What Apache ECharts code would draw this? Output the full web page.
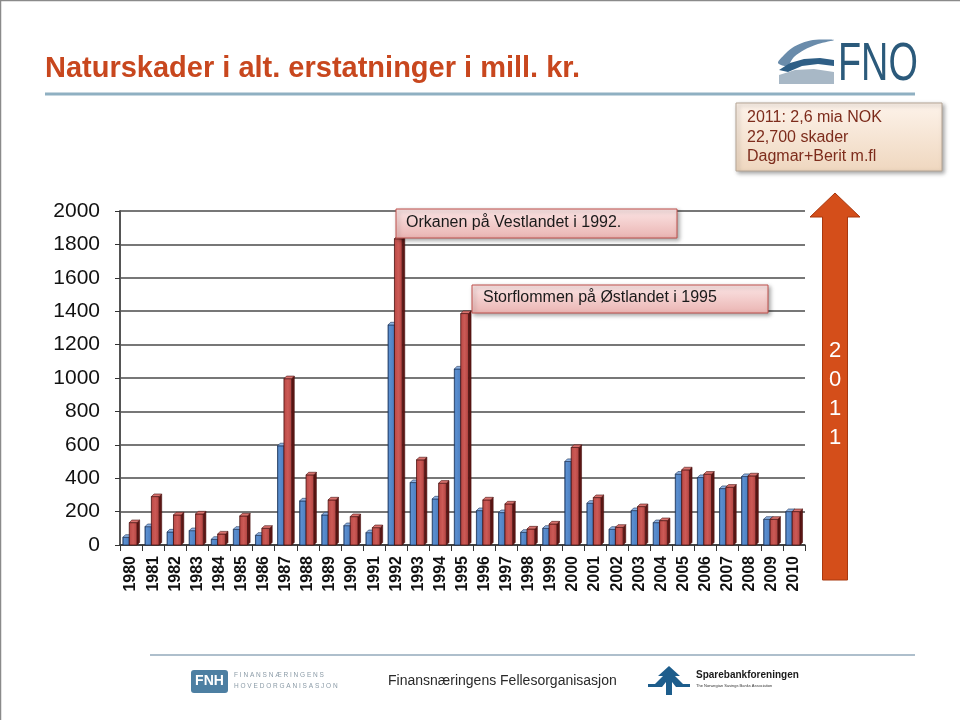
<!DOCTYPE html>
<html><head><meta charset="utf-8">
<script src="https://cdn.jsdelivr.net/npm/echarts@6/dist/echarts.min.js"></script>
<style>html,body{margin:0;padding:0;background:#fff}#c{width:960px;height:720px}</style>
</head><body><div id="c"></div>
<script>
const years = ['1980','1981','1982','1983','1984','1985','1986','1987','1988','1989','1990','1991','1992','1993','1994','1995','1996','1997','1998','1999','2000','2001','2002','2003','2004','2005','2006','2007','2008','2009','2010'];
const seriesA = [46,110,78,86,34,94,58,594,264,180,116,74,1318,374,276,1054,206,194,76,100,500,250,94,206,134,424,404,338,410,154,200];
const seriesB = [134,290,180,186,66,174,100,996,420,270,170,104,1834,510,370,1386,270,246,96,126,584,284,106,230,146,450,424,346,414,154,200];
const yTicks = [0,200,400,600,800,1000,1200,1400,1600,1800,2000];

const chart = echarts.init(document.getElementById('c'));
const NARROW = '"Liberation Sans Narrow","Arial Narrow","Liberation Sans",Arial,sans-serif';
const SANS = '"Liberation Sans",Arial,sans-serif';

function makeRender(kind){
  return function(params, api){
    const i = api.value(0), v = api.value(1);
    const base = api.coord([i, 0]);
    const top = api.coord([i, v]);
    const bw = api.size([1,0])[0];
    const c = base[0];
    let x0, x1, front, side, cap, stroke;
    if(kind === 'a'){
      x0 = c - bw*0.37; x1 = c - bw*0.08;
      front = new echarts.graphic.LinearGradient(0,0,1,0,[{offset:0,color:'#2d5590'},{offset:0.25,color:'#5b8fd0'},{offset:1,color:'#4a7dbf'}]);
      side = '#24406e'; cap = '#8db2e2'; stroke = '#1c3358';
    } else {
      x0 = c - bw*0.08; x1 = c + bw*0.27;
      front = new echarts.graphic.LinearGradient(0,0,1,0,[{offset:0,color:'#b84744'},{offset:0.5,color:'#cc5a56'},{offset:1,color:'#b04240'}]);
      side = '#5c1614'; cap = '#d9726e'; stroke = '#4a1210';
    }
    const dx = 2.6, dy = -2.6;
    const y0 = top[1], yb = base[1];
    return {type:'group', children:[
      {type:'polygon', shape:{points:[[x1,y0],[x1+dx,y0+dy],[x1+dx,yb+dy],[x1,yb]]}, style:{fill:side, stroke:stroke, lineWidth:0.6}},
      {type:'rect', shape:{x:x0, y:y0, width:x1-x0, height:yb-y0}, style:{fill:front, stroke:stroke, lineWidth:0.8}},
      {type:'polygon', shape:{points:[[x0,y0],[x0+dx,y0+dy],[x1+dx,y0+dy],[x1,y0]]}, style:{fill:cap, stroke:stroke, lineWidth:0.6}}
    ]};
  };
}

function grad(c1, c2){ return new echarts.graphic.LinearGradient(0,0,0,1,[{offset:0,color:c1},{offset:1,color:c2}]); }

const option = {
  backgroundColor:'#ffffff',
  animation:false,
  grid:{left:120, right:155, top:211, bottom:175},
  xAxis:{
    type:'category', data:years,
    axisLine:{show:true, lineStyle:{color:'#333', width:1.5}},
    axisTick:{show:true, length:6, alignWithLabel:false, lineStyle:{color:'#333'}},
    axisLabel:{rotate:90, fontSize:16, fontWeight:'bold', color:'#111', margin:11, fontFamily:SANS, interval:0},
    splitLine:{show:false}
  },
  yAxis:{
    type:'value', min:0, max:2000, interval:200,
    axisLine:{show:true, lineStyle:{color:'#555', width:2}},
    axisTick:{show:true, length:5, lineStyle:{color:'#333'}},
    axisLabel:{fontSize:21, color:'#111', margin:20, fontFamily:SANS,
      formatter:function(v){ return yTicks.indexOf(v) >= 0 ? String(v) : ''; }},
    splitLine:{show:true, lineStyle:{color:'#4a4a4a', width:1.5}}
  },
  series:[
    {type:'custom', name:'A', renderItem:makeRender('a'), data:seriesA.map((v,i)=>[i,v]), encode:{x:0,y:1}, z:2},
    {type:'custom', name:'B', renderItem:makeRender('b'), data:seriesB.map((v,i)=>[i,v]), encode:{x:0,y:1}, z:3}
  ],
  graphic:[
    {type:'line', shape:{x1:0,y1:0.5,x2:960,y2:0.5}, style:{stroke:'#8a8a8a', lineWidth:1.5}, silent:true},
    {type:'line', shape:{x1:0.5,y1:0,x2:0.5,y2:720}, style:{stroke:'#8a8a8a', lineWidth:1.5}, silent:true},
    {type:'text', x:45, y:54, style:{text:'Naturskader i alt. erstatninger i mill. kr.', font:'bold 29px '+SANS, fill:'#c8471e'}},
    {type:'rect', shape:{x:45, y:92.5, width:870, height:3}, style:{fill:'#8fb0c2'}},
    {type:'polygon', shape:{points:[[778,63],[784,55],[792,48],[802,43],[813,40],[834,40],[818,44],[804,50],[794,57],[787,66]], smooth:0.3}, style:{fill:'#6a8cab'}},
    {type:'polygon', shape:{points:[[779,70],[790,63],[804,59],[820,58],[834,60],[834,66],[818,64],[802,66],[788,72]]}, style:{fill:'#2f5f86'}},
    {type:'polygon', shape:{points:[[779,75],[795,70],[814,69],[834,72],[834,84],[779,84]]}, style:{fill:'#a8b8c6'}},
    {type:'text', x:838, y:38, scaleX:0.7, style:{text:'FNO', font:'54px '+SANS, fill:'#2b5a7b'}},
    {type:'rect', shape:{x:736, y:103, width:206, height:68}, style:{fill:grad('#fdf3ea','#efd7bf'), stroke:'#b5a595', lineWidth:1, shadowBlur:4, shadowOffsetX:2, shadowOffsetY:2, shadowColor:'rgba(0,0,0,0.35)'}},
    {type:'text', x:747, y:108, style:{text:'2011: 2,6 mia NOK\n22,700 skader\nDagmar+Berit m.fl', font:'16px '+NARROW, fill:'#7d2c1c', lineHeight:19.5}},
    {type:'rect', shape:{x:396, y:209, width:281, height:29}, style:{fill:grad('#fce6e6','#eab4b2'), stroke:'#c0504d', lineWidth:1, shadowBlur:4, shadowOffsetX:2, shadowOffsetY:2, shadowColor:'rgba(0,0,0,0.35)'}, z:10},
    {type:'text', x:406, y:215, style:{text:'Orkanen på Vestlandet i 1992.', font:'16px '+SANS, fill:'#1a1a1a'}, z:11},
    {type:'rect', shape:{x:472, y:285, width:296, height:28}, style:{fill:grad('#fce6e6','#eab4b2'), stroke:'#c0504d', lineWidth:1, shadowBlur:4, shadowOffsetX:2, shadowOffsetY:2, shadowColor:'rgba(0,0,0,0.35)'}, z:10},
    {type:'text', x:483, y:290, style:{text:'Storflommen på Østlandet i 1995', font:'16px '+SANS, fill:'#1a1a1a'}, z:11},
    {type:'polygon', shape:{points:[[835,193],[860,217],[847.5,217],[847.5,580],[822.5,580],[822.5,217],[810,217]]}, style:{fill:'#d44e1a', stroke:'#a8380f', lineWidth:1}},
    {type:'text', x:835, y:336, style:{text:'2\n0\n1\n1', font:'22px '+SANS, fill:'#ffffff', align:'center', lineHeight:29}},
    {type:'rect', shape:{x:150, y:654, width:765, height:2}, style:{fill:'#aebfcc'}},
    {type:'rect', shape:{x:191, y:670, width:37, height:23, r:3}, style:{fill:'#4d7fa2'}},
    {type:'text', x:209.5, y:681.5, style:{text:'FNH', font:'bold 14px '+SANS, fill:'#ffffff', align:'center', verticalAlign:'middle'}},
    {type:'text', x:234, y:672, style:{text:'F I N A N S N Æ R I N G E N S', font:'6.5px '+SANS, fill:'#8a9aa6'}},
    {type:'text', x:234, y:683, style:{text:'H O V E D O R G A N I S A S J O N', font:'6.5px '+SANS, fill:'#8a9aa6'}},
    {type:'text', x:388, y:674, style:{text:'Finansnæringens Fellesorganisasjon', font:'14px '+NARROW, fill:'#2a2a2a'}},
    {type:'polygon', shape:{points:[[669,666],[680,676],[675,676],[683,684],[690,684],[690,687],[676,687],[672,682],[672,695],[666,695],[666,682],[662,687],[648,687],[648,684],[655,684],[663,676],[658,676]]}, style:{fill:'#1d5d8c'}},
    {type:'text', x:696, y:670, style:{text:'Sparebankforeningen', font:'bold 10px '+NARROW, fill:'#1a1a1a'}},
    {type:'text', x:696, y:684, style:{text:'The Norwegian Savings Banks Association', font:'4px '+SANS, fill:'#333'}}
  ]
};
chart.setOption(option);
</script>
</body></html>
